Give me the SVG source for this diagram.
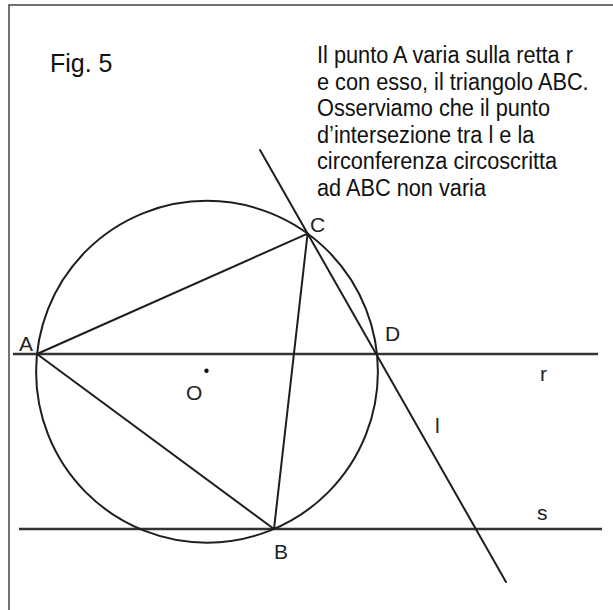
<svg xmlns="http://www.w3.org/2000/svg" width="613" height="610" viewBox="0 0 613 610">
<style>
.ln{stroke:#1e1e1e;stroke-width:2;fill:none;stroke-linecap:round}
.rl{stroke:#333;stroke-width:2.4;fill:none}
.frame{stroke:#444;stroke-width:1.5;fill:none}
.lbl{font-family:"Liberation Sans",Arial,sans-serif;font-size:21px;fill:#222}
.txt{font-family:"Liberation Sans",Arial,sans-serif;font-size:23px;fill:#111}
</style>
<rect width="613" height="610" fill="#fff"/>
<g id="frame"><path class="frame" d="M9,610 V5 H613"/></g>
<g id="texts">
<text class="txt" x="50" y="72" style="font-size:25px">Fig. 5</text>
<g transform="translate(317,0) scale(0.945,1)">
<text class="txt" x="0" y="63">Il punto A varia sulla retta r</text>
<text class="txt" x="0" y="89.6">e con esso, il triangolo ABC.</text>
<text class="txt" x="0" y="116.2">Osserviamo che il punto</text>
<text class="txt" x="0" y="142.8">d’intersezione tra l e la</text>
<text class="txt" x="0" y="169.4">circonferenza circoscritta</text>
<text class="txt" x="0" y="196">ad ABC non varia</text>
</g>
</g>
<g id="lines">
<line class="rl" x1="13" y1="354" x2="598" y2="354"/>
<line class="rl" x1="19" y1="529" x2="602" y2="529"/>
<line class="ln" x1="260" y1="150" x2="506" y2="582"/>
</g>
<g id="circle"><circle class="ln" cx="207" cy="371.75" r="170.9"/></g>
<g id="triangle"><polygon class="ln" points="37,354 274,529 307.6,233.6" style="stroke-linejoin:round"/></g>
<g id="center"><circle cx="206.5" cy="370.7" r="2.2" fill="#111"/></g>
<g id="labels">
<text class="lbl" x="19" y="351">A</text>
<text class="lbl" x="310" y="232">C</text>
<text class="lbl" x="385" y="341">D</text>
<text class="lbl" x="186" y="400">O</text>
<text class="lbl" x="540" y="381">r</text>
<text class="lbl" x="435" y="433">l</text>
<text class="lbl" x="537" y="520">s</text>
<text class="lbl" x="274" y="559">B</text>
</g>
</svg>
